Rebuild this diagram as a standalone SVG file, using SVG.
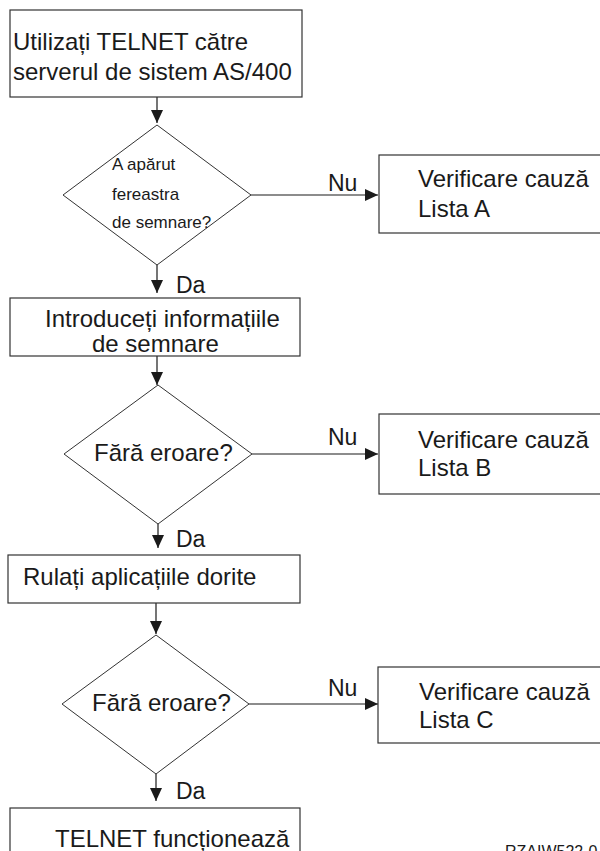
<svg xmlns="http://www.w3.org/2000/svg" width="600" height="851" viewBox="0 0 600 851">
<defs>
<marker id="ah" markerUnits="userSpaceOnUse" markerWidth="14" markerHeight="14" viewBox="0 0 14 14" refX="13" refY="7" orient="auto">
<path d="M0,1 L13,7 L0,13 Z" fill="#1a1a1a"/>
</marker>
<style>
.box{fill:#fff;stroke:#333;stroke-width:1.2}
.dia{fill:#fff;stroke:#333;stroke-width:1}
.t{font-family:"Liberation Sans",Arial,sans-serif;font-size:24px;fill:#1a1a1a}
.s{font-family:"Liberation Sans",Arial,sans-serif;font-size:17px;fill:#1a1a1a}
.lbl{font-family:"Liberation Sans",Arial,sans-serif;font-size:23px;fill:#1a1a1a}
.c{fill:none;stroke:#1a1a1a;stroke-width:1.2;marker-end:url(#ah)}
</style>
</defs>
<rect width="600" height="851" fill="#fff"/>
<g id="connectors">
<line class="c" x1="157" y1="97" x2="157" y2="123"/>
<line class="c" x1="251" y1="195" x2="378" y2="195"/>
<line class="c" x1="157" y1="265" x2="157" y2="293"/>
<line class="c" x1="157" y1="356" x2="157" y2="385"/>
<line class="c" x1="252" y1="454" x2="378" y2="454"/>
<line class="c" x1="158" y1="524" x2="158" y2="548"/>
<line class="c" x1="156" y1="603" x2="156" y2="634"/>
<line class="c" x1="249" y1="704" x2="378" y2="704"/>
<line class="c" x1="156" y1="774" x2="156" y2="801"/>
<text class="lbl" x="328" y="191">Nu</text>
<text class="lbl" x="176" y="293">Da</text>
<text class="lbl" x="328" y="445">Nu</text>
<text class="lbl" x="176" y="547">Da</text>
<text class="lbl" x="328" y="696">Nu</text>
<text class="lbl" x="176" y="799">Da</text>
</g>
<g id="start">
<rect class="box" x="10" y="10" width="292" height="87"/>
<text class="t" x="13" y="50">Utilizați TELNET către</text>
<text class="t" x="13" y="80">serverul de sistem AS/400</text>
</g>
<g id="dec1">
<polygon class="dia" points="157,125 251,195 157,265 63,195"/>
<text class="s" x="112" y="170">A apărut</text>
<text class="s" x="112" y="200">fereastra</text>
<text class="s" x="112" y="228">de semnare?</text>
</g>
<g id="listA">
<rect class="box" x="379" y="155" width="230" height="78"/>
<text class="t" x="418" y="187">Verificare cauză</text>
<text class="t" x="418" y="217">Lista A</text>
</g>
<g id="signon">
<rect class="box" x="10" y="298" width="290" height="58"/>
<text class="t" x="45" y="327">Introduceți informațiile</text>
<text class="t" x="92" y="352">de semnare</text>
</g>
<g id="dec2">
<polygon class="dia" points="158,385 252,454 158,524 64,454"/>
<text class="t" x="94" y="461">Fără eroare?</text>
</g>
<g id="listB">
<rect class="box" x="379" y="414" width="230" height="80"/>
<text class="t" x="418" y="448">Verificare cauză</text>
<text class="t" x="418" y="476">Lista B</text>
</g>
<g id="run">
<rect class="box" x="8" y="555" width="292" height="48"/>
<text class="t" x="23" y="585">Rulați aplicațiile dorite</text>
</g>
<g id="dec3">
<polygon class="dia" points="156,635 249,704 156,774 62,704"/>
<text class="t" x="92" y="711">Fără eroare?</text>
</g>
<g id="listC">
<rect class="box" x="378" y="667" width="230" height="76"/>
<text class="t" x="419" y="700">Verificare cauză</text>
<text class="t" x="419" y="728">Lista C</text>
</g>
<g id="works">
<rect class="box" x="10" y="808" width="290" height="60"/>
<text class="t" x="55" y="847">TELNET funcționează</text>
</g>
<text x="505" y="857" font-family="Liberation Sans, Arial, sans-serif" font-size="16" fill="#1a1a1a">RZAIW522-0</text>
</svg>
